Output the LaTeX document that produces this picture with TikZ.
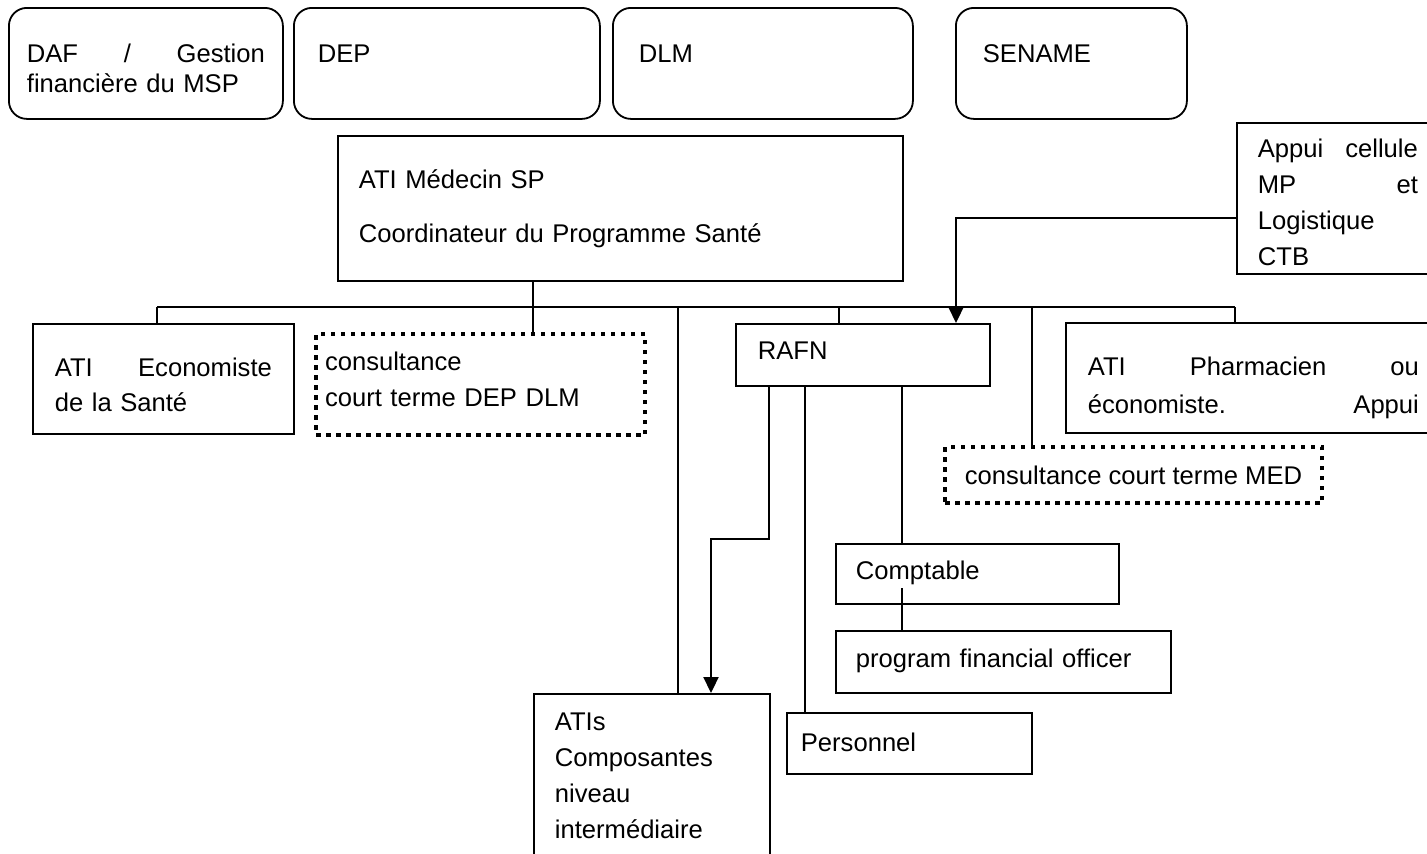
\documentclass[tikz,border=0pt]{standalone}
\usepackage{fontspec}
\setmainfont{Liberation Sans}
\usetikzlibrary{arrows.meta}
\newcommand\topx[1]{\rule{0pt}{#1pt}}
\newcommand\botx[1]{\rule[-#1pt]{0pt}{0pt}}
\tikzset{every node/.style={font=\fontsize{25.6pt}{36pt}\selectfont},
 b/.style={draw,line width=1.8pt,anchor=north west,align=left,inner sep=0pt},
 rb/.style={b,rounded corners=18pt,font=\fontsize{25.6pt}{30pt}\selectfont},
 db/.style={b,line width=4pt,dash pattern=on 4.5pt off 5.5pt},
 wire/.style={line width=1.7pt},
 arr/.style={line width=2.2pt,-{Triangle[length=16pt,width=15pt]}}}

\begin{document}
\begin{tikzpicture}[x=1pt,y=-1pt]
\fill[white] (0,0) rectangle (1427,854);
\useasboundingbox (0,0) rectangle (1427,854);
\clip (0,0) rectangle (1427,854);
% directions
\node[rb,minimum width=274pt,minimum height=111pt,text width=238pt] (daf) at (8,7) {\topx{55}DAF\hfill/\hfill Gestion\\financière du MSP\botx{26}};
\node[rb,minimum width=306pt,minimum height=111pt,text width=258pt] (dep) at (293,7) {\topx{55}DEP\botx{56}};
\node[rb,minimum width=300pt,minimum height=111pt,text width=248pt] (dlm) at (612,7) {\topx{55}DLM\botx{56}};
\node[rb,minimum width=231pt,minimum height=111pt,text width=177pt] (sen) at (955,7) {\topx{55}SENAME\botx{56}};
% coordination
\node[b,minimum width=565pt,minimum height=145pt,text width=523pt] (ati) at (337,135) {\topx{53}ATI Médecin SP\\[18pt]Coordinateur du Programme Santé\botx{38}};
\node[b,minimum width=202pt,minimum height=151pt,text width=160pt] (appui) at (1236,122) {\topx{35}Appui\hfill cellule\\MP\hfill et\\Logistique\\CTB\botx{8}};
% second level
\node[b,minimum width=261pt,minimum height=110pt,text width=217pt] (eco) at (32,323) {\topx{53}ATI\hfill Economiste\\[-1pt]de la Santé\botx{22}};
\node[db,minimum width=329pt,minimum height=101pt,text width=311pt] (cdep) at (314,332) {\topx{36}consultance\\court terme DEP DLM\botx{29}};
\node[b,minimum width=254pt,minimum height=62pt,text width=210pt] (rafn) at (735,323) {\topx{36}RAFN\botx{26}};
\node[b,minimum width=375pt,minimum height=110pt,text width=331pt] (pharm) at (1065,322) {\topx{53}ATI\hfill Pharmacien\hfill ou\\[2pt]économiste.\hfill Appui\botx{19}};
\node[db,minimum width=377pt,minimum height=56pt,align=center] (cmed) at (943,445) {\topx{37}consultance court terme MED\botx{19}};
% under RAFN
\node[b,minimum width=283pt,minimum height=60pt,text width=243pt] (cpt) at (835,543) {\topx{36}Comptable\botx{24}};
\node[b,minimum width=335pt,minimum height=62pt,text width=295pt] (pfo) at (835,630) {\topx{37}program financial officer\botx{25}};
\node[b,minimum width=236pt,minimum height=200pt,text width=194pt] (atis) at (533,693) {\topx{37}ATIs\\Composantes\\niveau\\intermédiaire\botx{55}};
\node[b,minimum width=245pt,minimum height=61pt,text width=217pt] (pers) at (786,712) {\topx{39}Personnel\botx{22}};
% bus and drops
\coordinate (j0) at (157,307);
\coordinate (j1) at (533,307);
\coordinate (j2) at (678,307);
\coordinate (j3) at (839,307);
\coordinate (j4) at (1032,307);
\coordinate (j5) at (1235,307);
\coordinate (k) at (956,218);
\coordinate (r1) at (769,539);
\coordinate (r1b) at (711,539);
\coordinate (r2) at (805,539);
\coordinate (r3) at (902,588);
\draw[wire] (j0) -- (j5);
\draw[wire] (ati.south -| j1) -- (j1 |- cdep.north);
\foreach \j/\n in {j0/eco,j2/atis,j3/rafn,j4/cmed,j5/pharm}{\draw[wire] (\j) -- (\j |- \n.north);}
\draw[arr] (appui.west |- k) -- (k) -- (k |- rafn.north);
\draw[arr] (rafn.south -| r1) -- (r1) -- (r1b) -- (r1b |- atis.north);
\draw[wire] (rafn.south -| r2) -- (r2 |- pers.north);
\draw[wire] (rafn.south -| r3) -- (r3 |- cpt.north);
\draw[wire] (r3) -- (r3 |- pfo.north);
\end{tikzpicture}
\end{document}
